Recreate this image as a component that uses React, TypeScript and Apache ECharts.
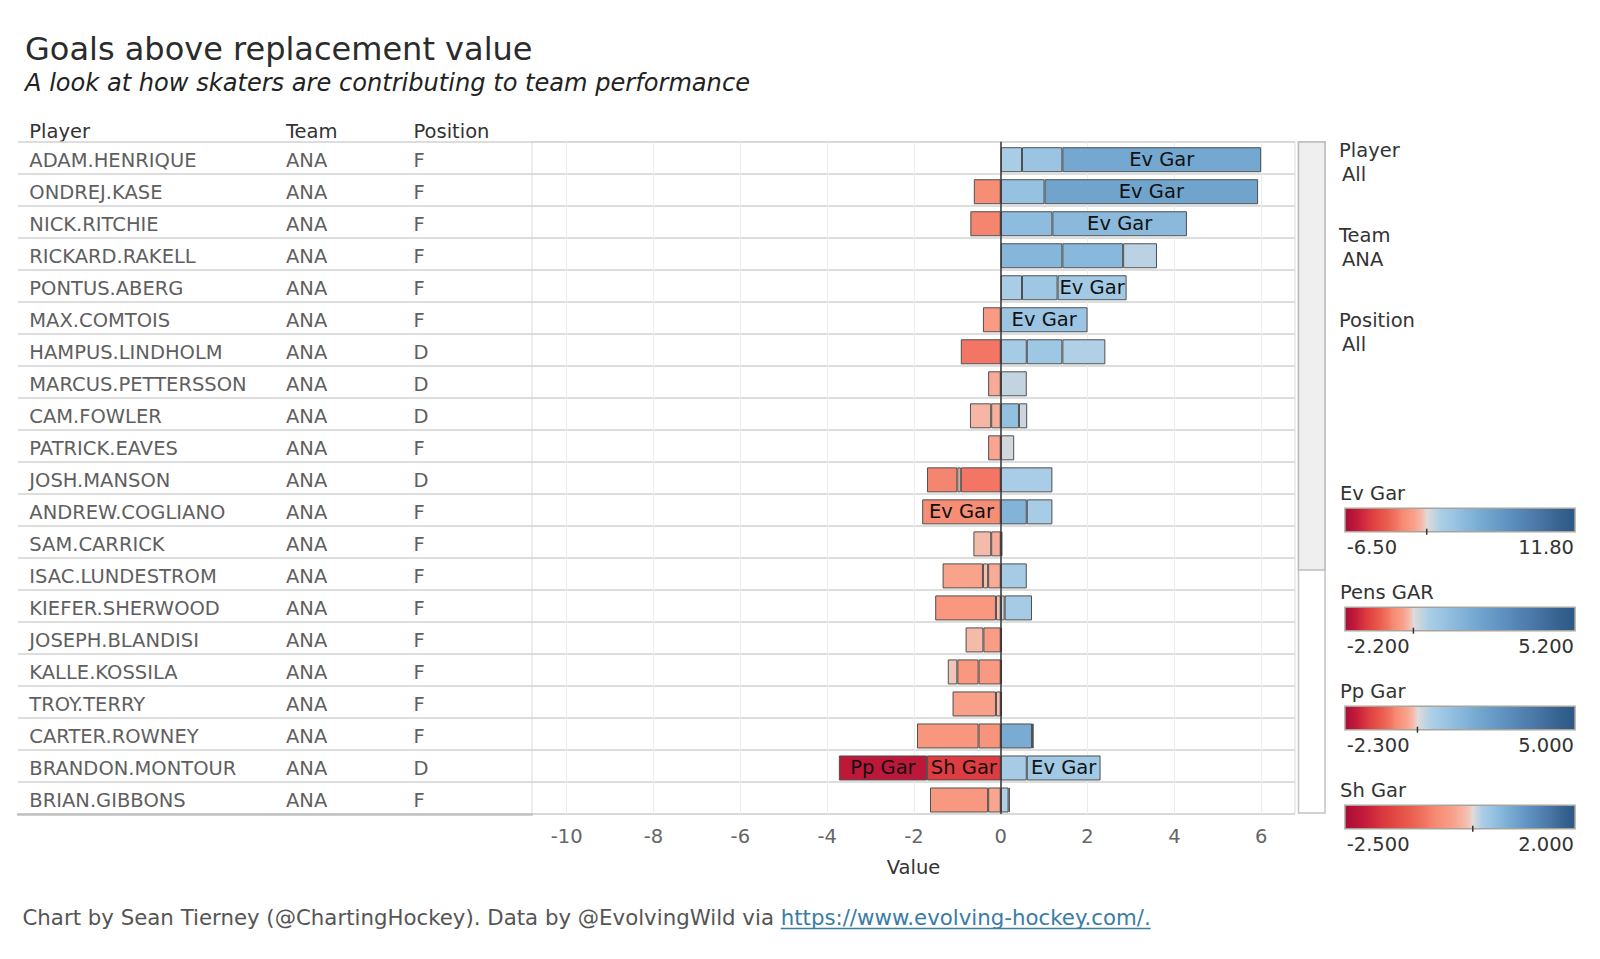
import React, { useEffect, useRef } from 'react';
import * as echarts from 'echarts';

const PLAYERS = ['ADAM.HENRIQUE', 'ONDREJ.KASE', 'NICK.RITCHIE', 'RICKARD.RAKELL', 'PONTUS.ABERG', 'MAX.COMTOIS', 'HAMPUS.LINDHOLM', 'MARCUS.PETTERSSON', 'CAM.FOWLER', 'PATRICK.EAVES', 'JOSH.MANSON', 'ANDREW.COGLIANO', 'SAM.CARRICK', 'ISAC.LUNDESTROM', 'KIEFER.SHERWOOD', 'JOSEPH.BLANDISI', 'KALLE.KOSSILA', 'TROY.TERRY', 'CARTER.ROWNEY', 'BRANDON.MONTOUR', 'BRIAN.GIBBONS'];
const TEAMS = ['ANA', 'ANA', 'ANA', 'ANA', 'ANA', 'ANA', 'ANA', 'ANA', 'ANA', 'ANA', 'ANA', 'ANA', 'ANA', 'ANA', 'ANA', 'ANA', 'ANA', 'ANA', 'ANA', 'ANA', 'ANA'];
const POSITIONS = ['F', 'F', 'F', 'F', 'F', 'F', 'D', 'D', 'D', 'F', 'D', 'F', 'F', 'F', 'F', 'F', 'F', 'F', 'F', 'D', 'F'];

// stacked from zero outward in this order
const SH_GAR = [null, null, null, null, null, null, -0.92, -0.29, 0.42, null, -0.92, 0.60, 0.04, -0.29, 0.09, 0.03, -0.51, null, 0.72, -1.70, 0.18];
const PP_GAR = [0.49, 1.01, 1.19, 1.42, 0.49, null, 0.60, null, -0.22, null, -0.08, null, null, -0.12, -0.11, null, -0.49, 0.03, 0.04, -2.03, 0.03];
const PENS_GAR = [0.93, -0.62, -0.70, 1.40, 0.82, -0.41, 0.82, null, 0.19, -0.29, -0.70, 0.59, -0.22, 0.60, 0.63, -0.40, 0.03, -0.11, -0.51, 0.60, -0.29];
const EV_GAR = [4.58, 4.92, 3.10, 0.78, 1.59, 2.00, 0.99, 0.60, -0.49, 0.31, 1.19, -1.81, -0.41, -0.93, -1.40, -0.41, -0.22, -1.00, -1.42, 1.70, -1.34];

const LEGEND_NAMES = ['Ev Gar', 'Pens GAR', 'Pp Gar', 'Sh Gar'];
const LEGEND_MIN = [-6.5, -2.2, -2.3, -2.5];
const LEGEND_MAX = [11.8, 5.2, 5.0, 2.0];
const LEGEND_DECIMALS = [2, 3, 3, 3];

const AXIS_TICKS = [-10, -8, -6, -4, -2, 0, 2, 4, 6];
const AXIS_MIN = -10.8;
const AXIS_MAX = 6.78;
const LABEL_MIN_ABS = 1.5;

const FILTERS = [['Player', 'All'], ['Team', 'ANA'], ['Position', 'All']];

const FONT = '"DejaVu Sans", Verdana, sans-serif';
const FS = 19.5;

const RED_STOPS: [number, string][] = [
  [0, '#e2d9d6'], [0.03, '#f1c6bb'], [0.07, '#f5b7a7'], [0.15, '#f9a18b'], [0.22, '#f9967e'],
  [0.3, '#f58a72'], [0.37, '#f27563'], [0.5, '#e95b4c'], [0.68, '#de3c40'], [0.85, '#c31b3a'], [1, '#a90c38'],
];
const BLUE_STOPS: [number, string][] = [
  [0, '#dcdcdc'], [0.03, '#d0d6dc'], [0.06, '#bdd3e3'], [0.1, '#a9cde6'], [0.15, '#a0c8e4'],
  [0.26, '#8ab9dc'], [0.4, '#72a6cf'], [0.58, '#5b8dbd'], [0.75, '#4a77a6'], [0.9, '#36628f'], [1, '#2c5985'],
];

function hexToRgb(h: string) {
  const n = parseInt(h.slice(1), 16);
  return [(n >> 16) & 255, (n >> 8) & 255, n & 255];
}
function interp(stops: [number, string][], t: number) {
  const tt = Math.max(0, Math.min(1, t));
  for (let i = 1; i < stops.length; i++) {
    if (tt <= stops[i][0]) {
      const [t0, c0] = stops[i - 1];
      const [t1, c1] = stops[i];
      const f = (tt - t0) / (t1 - t0);
      const a = hexToRgb(c0), b = hexToRgb(c1);
      const r = a.map((v, k) => Math.round(v + (b[k] - v) * f));
      return `rgb(${r[0]},${r[1]},${r[2]})`;
    }
  }
  return stops[stops.length - 1][1];
}
function measureColor(name: string, v: number) {
  const i = LEGEND_NAMES.indexOf(name);
  if (v >= 0) return interp(BLUE_STOPS, v / LEGEND_MAX[i]);
  return interp(RED_STOPS, v / LEGEND_MIN[i]);
}

const SERIES_DEFS: [string, (number | null)[]][] = [
  ['Sh Gar', SH_GAR],
  ['Pp Gar', PP_GAR],
  ['Pens GAR', PENS_GAR],
  ['Ev Gar', EV_GAR],
];

// layout
const PLOT_LEFT = 532;
const PLOT_RIGHT = 1295;
const TOP = 141.7;
const BOTTOM = 814;
const TABLE_LEFT = 18;
const BAR_SHIFT = 2;
const COL_PLAYER = 29.3;
const COL_TEAM = 286;
const COL_POS = 413.5;

function textEl(text: string, x: number, baseline: number, size: number, color: string, extra: any = {}) {
  return {
    type: 'text',
    x,
    y: baseline - 0.346 * size,
    silent: true,
    style: {
      text,
      fill: color,
      fontSize: size,
      fontFamily: FONT,
      align: extra.align || 'left',
      verticalAlign: 'middle',
      fontStyle: extra.fontStyle || 'normal',
    },
  };
}

function buildOption() {
  const graphics: any[] = [];
  graphics.push(textEl('Goals above replacement value', 25, 60, 32, '#2b2b2b'));
  graphics.push(textEl('A look at how skaters are contributing to team performance', 25, 91, 24.1, '#222', { fontStyle: 'italic' }));
  graphics.push(textEl('Player', COL_PLAYER, 138.5, FS, '#333'));
  graphics.push(textEl('Team', COL_TEAM, 138.5, FS, '#333'));
  graphics.push(textEl('Position', COL_POS, 138.5, FS, '#333'));

  // scrollbar
  graphics.push({ type: 'rect', silent: true, shape: { x: 1298.5, y: 142, width: 26.5, height: 671 }, style: { fill: '#fff', stroke: '#c4c4c4', lineWidth: 1.5 } });
  graphics.push({ type: 'rect', silent: true, shape: { x: 1298.5, y: 142, width: 26.5, height: 428 }, style: { fill: '#efefef', stroke: '#bdbdbd', lineWidth: 1.5 } });

  // filters
  FILTERS.forEach(([k, v], i) => {
    graphics.push(textEl(k, 1339, 157.5 + 85 * i, FS, '#333'));
    graphics.push(textEl(v, 1342, 181 + 85 * i, FS, '#333'));
  });

  // color legends
  LEGEND_NAMES.forEach((name, i) => {
    const dy = 99 * i;
    const x0 = 1345, w = 230, y0 = 508.3 + dy, h = 23.4;
    const c = -LEGEND_MIN[i] / (LEGEND_MAX[i] - LEGEND_MIN[i]);
    const stops: any[] = [];
    [...RED_STOPS].reverse().forEach(([t, col]) => stops.push({ offset: c * (1 - t), color: col }));
    BLUE_STOPS.forEach(([t, col]) => stops.push({ offset: c + (1 - c) * t, color: col }));
    graphics.push(textEl(name, 1340, 500 + dy, FS, '#333'));
    graphics.push({
      type: 'rect', silent: true,
      shape: { x: x0, y: y0, width: w, height: h },
      style: { fill: { type: 'linear', x: 0, y: 0, x2: 1, y2: 0, colorStops: stops }, stroke: '#aaa59c', lineWidth: 1.5 },
    });
    graphics.push({ type: 'line', silent: true, shape: { x1: x0 + c * w, y1: y0 + h - 3, x2: x0 + c * w, y2: y0 + h + 3 }, style: { stroke: '#333', lineWidth: 1.5 } });
    graphics.push(textEl(LEGEND_MIN[i].toFixed(LEGEND_DECIMALS[i]), 1346.7, 554 + dy, FS, '#333'));
    graphics.push(textEl(LEGEND_MAX[i].toFixed(LEGEND_DECIMALS[i]), 1574, 554 + dy, FS, '#333', { align: 'right' }));
  });

  // footer
  const partA = 'Chart by Sean Tierney (@ChartingHockey). Data by @EvolvingWild via ';
  const partB = 'https://www.evolving-hockey.com/.';
  const FFS = 21.3;
  const ctx = document.createElement('canvas').getContext('2d')!;
  ctx.font = `${FFS}px "DejaVu Sans"`;
  const wA = ctx.measureText(partA).width;
  const wB = ctx.measureText(partB).width;
  const fx = 22.5, fb = 925;
  graphics.push(textEl(partA, fx, fb, FFS, '#555'));
  graphics.push(textEl(partB, fx + wA, fb, FFS, '#3a7ca5'));
  graphics.push({ type: 'line', silent: true, shape: { x1: fx + wA, y1: fb + 3.5, x2: fx + wA + wB, y2: fb + 3.5 }, style: { stroke: '#3a7ca5', lineWidth: 1.3 } });

  const series: any[] = SERIES_DEFS.map(([name, data], si) => ({
    type: 'bar',
    name,
    stack: 'gar',
    xAxisIndex: 0,
    yAxisIndex: 0,
    barWidth: 25,
    data,
    itemStyle: {
      color: (p: any) => measureColor(name, p.value),
      borderColor: '#4f4f4f',
      borderWidth: 1,
    },
    label: {
      show: true,
      position: 'inside',
      color: '#111',
      fontSize: FS,
      fontFamily: FONT,
      formatter: (p: any) => (Math.abs(p.value) >= LABEL_MIN_ABS ? name : ''),
    },
    markLine: si === SERIES_DEFS.length - 1 ? {
      silent: true,
      symbol: ['none', 'none'],
      label: { show: false },
      lineStyle: { color: '#333', width: 1.5, type: 'solid' },
      data: [[{ xAxis: 0, y: TOP }, { xAxis: 0, y: BOTTOM }]],
      z: 10,
    } : undefined,
  }));

  const rowSplit = { show: true, interval: 0, lineStyle: { color: '#d2d2d2', width: 1.5 } };

  return {
    animation: false,
    backgroundColor: '#fff',
    textStyle: { fontFamily: FONT },
    grid: [
      // bars
      { left: PLOT_LEFT, top: TOP + BAR_SHIFT, width: PLOT_RIGHT - PLOT_LEFT, height: BOTTOM - TOP },
      // table
      { left: TABLE_LEFT, top: TOP, width: PLOT_LEFT - TABLE_LEFT, height: BOTTOM - TOP },
      // plot frame
      { left: PLOT_LEFT, top: TOP, width: PLOT_RIGHT - PLOT_LEFT, height: BOTTOM - TOP, show: true, borderColor: '#dcdcdc', borderWidth: 1, backgroundColor: 'transparent' },
    ],
    xAxis: [
      {
        type: 'value', gridIndex: 0, min: AXIS_MIN, max: AXIS_MAX, show: false,
        splitLine: { show: false },
      },
      {
        type: 'value', gridIndex: 1, min: 0, max: 1,
        axisLine: { show: true, lineStyle: { color: '#c2c2c2', width: 2.5 } },
        axisTick: { show: false }, axisLabel: { show: false }, splitLine: { show: false },
      },
      {
        type: 'value', gridIndex: 2, min: AXIS_MIN, max: AXIS_MAX,
        name: 'Value', nameLocation: 'middle', nameGap: 43.5,
        nameTextStyle: { fontSize: FS, color: '#333', fontFamily: FONT },
        axisLine: { show: false },
        axisTick: { show: false, customValues: AXIS_TICKS },
        axisLabel: { customValues: AXIS_TICKS, color: '#666', fontSize: FS, margin: 12.5, fontFamily: FONT },
        splitLine: { show: true, lineStyle: { color: '#ececec', width: 1 } },
      },
    ],
    yAxis: [
      {
        type: 'category', gridIndex: 0, data: PLAYERS, inverse: true, show: false,
        splitLine: { show: false },
      },
      {
        type: 'category', gridIndex: 1, data: PLAYERS, inverse: true,
        axisLine: { show: false }, axisTick: { show: false, interval: 0 },
        splitLine: rowSplit,
        axisLabel: {
          interval: 0,
          align: 'left',
          margin: -(COL_PLAYER - TABLE_LEFT),
          padding: [5, 0, 0, 0],
          formatter: (v: string, idx: number) => `{p|${v}}{t|${TEAMS[idx]}}{f|${POSITIONS[idx]}}`,
          rich: {
            p: { width: COL_TEAM - COL_PLAYER, fontSize: FS, color: '#5f5f5f', fontFamily: FONT },
            t: { width: COL_POS - COL_TEAM, fontSize: FS, color: '#5f5f5f', fontFamily: FONT },
            f: { fontSize: FS, color: '#5f5f5f', fontFamily: FONT },
          },
        },
      },
      {
        type: 'category', gridIndex: 2, data: PLAYERS, inverse: true,
        axisLine: { show: false }, axisTick: { show: false, interval: 0 }, axisLabel: { show: false, interval: 0 },
        splitLine: rowSplit,
      },
    ],
    series,
    graphic: graphics,
  };
}

export default function App() {
  const ref = useRef<HTMLDivElement>(null);
  useEffect(() => {
    const chart = echarts.init(ref.current!, null, { renderer: 'svg' });
    chart.setOption(buildOption() as any);
    return () => chart.dispose();
  }, []);
  return <div ref={ref} style={{ position: 'absolute', left: 0, top: 0, width: 1600, height: 959, background: '#fff' }} />;
}
